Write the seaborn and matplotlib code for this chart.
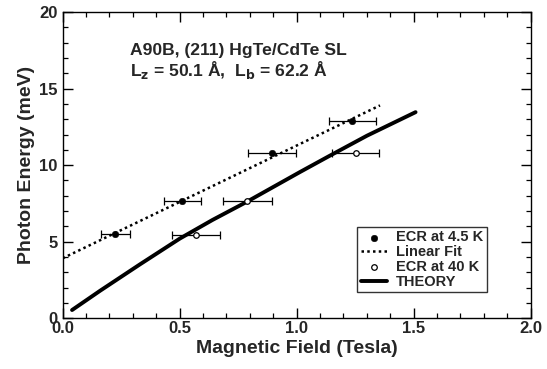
import numpy as np
import pandas as pd
import matplotlib
matplotlib.use("Agg")
import matplotlib.pyplot as plt
import seaborn as sns
from matplotlib.ticker import MultipleLocator

# ---- data ----
b_45 = [0.224, 0.511, 0.896, 1.238]
e_45 = [5.49, 7.67, 10.82, 12.88]
xerr_45 = [0.062, 0.078, 0.102, 0.100]

b_40 = [0.570, 0.789, 1.252]
e_40 = [5.42, 7.64, 10.82]
xerr_40 = [0.101, 0.105, 0.100]

fit_b = [0.0, 1.356]
fit_e = [3.92, 13.9]

theory_b = [0.04, 0.16, 0.33, 0.50, 0.64, 0.786, 1.014, 1.142, 1.30, 1.508]
theory_e = [0.54, 1.80, 3.52, 5.20, 6.42, 7.60, 9.55, 10.62, 11.92, 13.46]

x_ticks = [0.0, 0.5, 1.0, 1.5, 2.0]
y_ticks = [0, 5, 10, 15, 20]

sns.set_style("ticks")
plt.rcParams['font.family'] = ['Liberation Sans', 'DejaVu Sans']
plt.rcParams['font.weight'] = 'bold'

fig = plt.figure(figsize=(5.47, 3.69), dpi=100)
ax = fig.add_axes([0.1146, 0.1374, 0.9702 - 0.1146, 0.9675 - 0.1374])

df45 = pd.DataFrame({"B": b_45, "E": e_45})
df40 = pd.DataFrame({"B": b_40, "E": e_40})
dfit = pd.DataFrame({"B": fit_b, "E": fit_e})
dth = pd.DataFrame({"B": theory_b, "E": theory_e})

ax.errorbar(b_45, e_45, xerr=xerr_45, fmt='none', ecolor='black', elinewidth=0.9, capsize=3, capthick=0.9)
ax.errorbar(b_40, e_40, xerr=xerr_40, fmt='none', ecolor='black', elinewidth=0.9, capsize=3, capthick=0.9)

sns.lineplot(data=dfit, x="B", y="E", ax=ax, color='black', linestyle=(0, (1, 1.3)), linewidth=1.8, label="Linear Fit")
sns.lineplot(data=dth, x="B", y="E", ax=ax, color='black', linewidth=2.8, label="THEORY")
sns.scatterplot(data=df45, x="B", y="E", ax=ax, color='black', s=22, edgecolor='black', zorder=5, label="ECR at 4.5 K")
sns.scatterplot(data=df40, x="B", y="E", ax=ax, facecolor='white', s=16, edgecolor='black', linewidth=0.9, zorder=5, label="ECR at 40 K")

ax.set_xlim(0, 2.0)
ax.set_ylim(0, 20)
ax.set_xticks(x_ticks)
ax.set_xticklabels([f"{t:.1f}" for t in x_ticks])
ax.set_yticks(y_ticks)
ax.set_yticklabels([str(t) for t in y_ticks])
ax.xaxis.set_minor_locator(MultipleLocator(0.1))
ax.yaxis.set_minor_locator(MultipleLocator(1))
ax.tick_params(which='both', direction='in', top=True, right=True, color='black')
ax.tick_params(which='major', length=7, width=1.0, labelsize=12)
ax.tick_params(which='minor', length=3.5, width=0.9)
ax.tick_params(axis='x', pad=2)
for lab in ax.get_xticklabels() + ax.get_yticklabels():
    lab.set_fontweight('bold')
for s in ax.spines.values():
    s.set_color('black')
    s.set_linewidth(1.0)

ax.set_xlabel("Magnetic Field (Tesla)", fontsize=14, fontweight='bold', labelpad=3)
ax.set_ylabel("Photon Energy (meV)", fontsize=14, fontweight='bold', labelpad=3)

ax.text(0.144, 0.874, "A90B, (211) HgTe/CdTe SL", transform=ax.transAxes, fontsize=12.6, fontweight='bold', va='center')
ax.text(0.144, 0.810, r"L$_\mathbf{z}$ = 50.1 Å,  L$_\mathbf{b}$ = 62.2 Å", transform=ax.transAxes, fontsize=12.6, fontweight='bold', va='center')

h, l = ax.get_legend_handles_labels()
d = dict(zip(l, h))
order = ["ECR at 4.5 K", "Linear Fit", "ECR at 40 K", "THEORY"]
leg = ax.legend([d[k] for k in order], order, loc='lower right', bbox_to_anchor=(0.906, 0.085),
                frameon=True, fancybox=False, edgecolor='black', prop={'weight': 'bold', 'size': 10.5},
                handlelength=1.8, handletextpad=0.6, borderpad=0.25, labelspacing=0.05, borderaxespad=0)
leg.get_frame().set_linewidth(1.0)

fig.savefig("out.png", dpi=100)
